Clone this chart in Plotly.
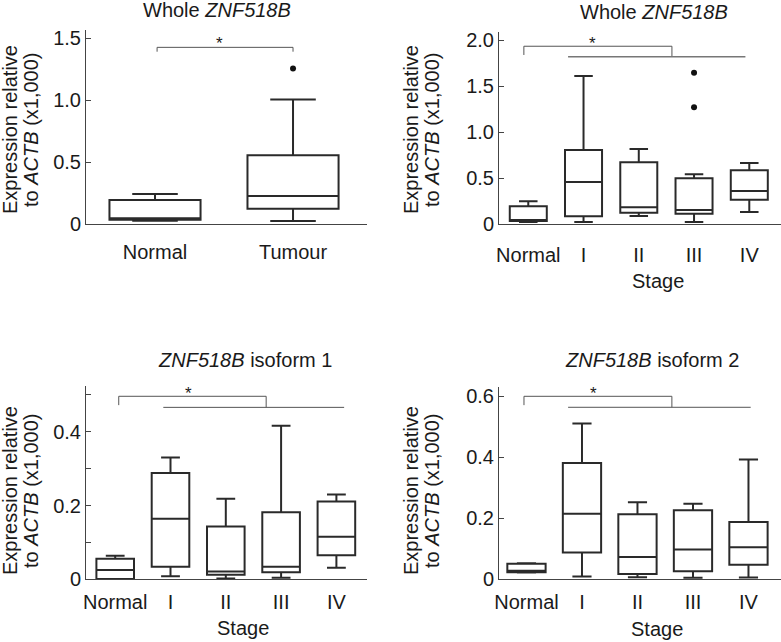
import plotly.graph_objects as go

W, H = 781, 642

# ---------------- data ----------------
p1_categories = ["Normal", "Tumour"]
p1_lower = [0.027, 0.024]
p1_q1 = [0.035, 0.124]
p1_median = [0.046, 0.226]
p1_q3 = [0.194, 0.554]
p1_upper = [0.242, 1.005]
p1_out_x = ["Tumour"]
p1_out_y = [1.255]

stages = ["Normal", "I", "II", "III", "IV"]

p2_lower = [0.025, 0.025, 0.090, 0.025, 0.134]
p2_q1 = [0.036, 0.087, 0.126, 0.115, 0.267]
p2_median = [0.047, 0.460, 0.185, 0.155, 0.362]
p2_q3 = [0.196, 0.808, 0.674, 0.500, 0.587]
p2_upper = [0.250, 1.612, 0.818, 0.543, 0.666]
p2_out_x = ["III", "III"]
p2_out_y = [1.648, 1.272]

p3_lower = [0.000, 0.008, 0.002, 0.004, 0.031]
p3_q1 = [0.001, 0.034, 0.0125, 0.019, 0.065]
p3_median = [0.025, 0.164, 0.021, 0.034, 0.115]
p3_q3 = [0.056, 0.288, 0.143, 0.182, 0.211]
p3_upper = [0.064, 0.330, 0.218, 0.416, 0.230]

p4_lower = [0.022, 0.009, 0.0066, 0.005, 0.006]
p4_q1 = [0.023, 0.088, 0.017, 0.026, 0.048]
p4_median = [0.028, 0.215, 0.073, 0.098, 0.105]
p4_q3 = [0.051, 0.381, 0.213, 0.226, 0.188]
p4_upper = [0.053, 0.511, 0.253, 0.248, 0.393]

p1_ticks = [0, 0.5, 1.0, 1.5]
p1_ticktext = ["0", "0.5", "1.0", "1.5"]
p2_ticks = [0, 0.5, 1.0, 1.5, 2.0]
p2_ticktext = ["0", "0.5", "1.0", "1.5", "2.0"]
p3_ticks = [0, 0.1, 0.2, 0.3, 0.4, 0.5]
p3_ticktext = ["0", "", "0.2", "", "0.4", ""]
p4_ticks = [0, 0.2, 0.4, 0.6]
p4_ticktext = ["0", "0.2", "0.4", "0.6"]

titles = ["Whole <i>ZNF518B</i>", "Whole <i>ZNF518B</i>",
          "<i>ZNF518B</i> isoform 1", "<i>ZNF518B</i> isoform 2"]

# ---------------- style ----------------
FONT = "Liberation Sans, Arial, Helvetica, sans-serif"
FS = 20
TXT = "#1a1a1a"
LINE = "#2a2a2a"
AX = "#444444"
BR = "#555555"

def px(xp):
    return xp / W

def py(yp):
    return 1 - yp / H

# panel geometry in pixels: (x0, x1, ytop, ybottom)
geo = {
    1: (86, 367, 30, 224),
    2: (499, 781, 31.7, 224.3),
    3: (86, 366.7, 385.7, 579.3),
    4: (499, 781, 386.7, 579.3),
}
xranges = {1: [-0.5, 1.536], 2: [-0.53, 4.574], 3: [-0.528, 4.548], 4: [-0.495, 4.586]}
yranges = {1: [0, 1.565], 2: [0, 2.093], 3: [0, 0.5247], 4: [0, 0.6315]}
standoffs = {1: 10, 2: 13, 3: 5, 4: 5}

fig = go.Figure()

def add_boxes(i, cats, lo, q1, med, q3, up, width):
    ax = "" if i == 1 else str(i)
    fig.add_trace(go.Box(
        x=cats, q1=q1, median=med, q3=q3, lowerfence=lo, upperfence=up,
        xaxis="x" + ax, yaxis="y" + ax,
        width=width, whiskerwidth=0.5,
        fillcolor="white", line=dict(color=LINE, width=2),
        boxpoints=False, hoverinfo="skip",
    ))

def add_outliers(i, xs, ys):
    ax = "" if i == 1 else str(i)
    fig.add_trace(go.Scatter(
        x=xs, y=ys, mode="markers", xaxis="x" + ax, yaxis="y" + ax,
        marker=dict(color="#111111", size=6), hoverinfo="skip",
    ))

add_boxes(1, p1_categories, p1_lower, p1_q1, p1_median, p1_q3, p1_upper, 0.66)
add_outliers(1, p1_out_x, p1_out_y)
add_boxes(2, stages, p2_lower, p2_q1, p2_median, p2_q3, p2_upper, 0.67)
add_outliers(2, p2_out_x, p2_out_y)
add_boxes(3, stages, p3_lower, p3_q1, p3_median, p3_q3, p3_upper, 0.68)
add_boxes(4, stages, p4_lower, p4_q1, p4_median, p4_q3, p4_upper, 0.69)

layout = dict(
    width=W, height=H, margin=dict(l=0, r=0, t=0, b=0, autoexpand=False),
    paper_bgcolor="white", plot_bgcolor="white", showlegend=False,
    font=dict(family=FONT, size=FS, color=TXT),
)

tickinfo = {1: (p1_ticks, p1_ticktext), 2: (p2_ticks, p2_ticktext),
            3: (p3_ticks, p3_ticktext), 4: (p4_ticks, p4_ticktext)}
cats_for = {1: p1_categories, 2: stages, 3: stages, 4: stages}

for i in range(1, 5):
    x0, x1, yt, yb = geo[i]
    sx = "xaxis" if i == 1 else "xaxis%d" % i
    sy = "yaxis" if i == 1 else "yaxis%d" % i
    anchor_y = "y" if i == 1 else "y%d" % i
    anchor_x = "x" if i == 1 else "x%d" % i
    layout[sx] = dict(
        domain=[px(x0), px(x1)], anchor=anchor_y, type="category",
        categoryorder="array", categoryarray=cats_for[i],
        range=xranges[i], showgrid=False, zeroline=False,
        showline=True, linecolor=AX, linewidth=1, ticks="",
        tickfont=dict(family=FONT, size=FS, color=TXT),
        ticklabelstandoff=standoffs[i], automargin=False,
    )
    tv, tt = tickinfo[i]
    layout[sy] = dict(
        domain=[py(yb), py(yt)], anchor=anchor_x,
        range=yranges[i], showgrid=False, zeroline=False,
        showline=True, linecolor=AX, linewidth=1,
        ticks="inside", ticklen=5, tickcolor=AX, tickwidth=1,
        tickmode="array", tickvals=tv, ticktext=tt,
        tickfont=dict(family=FONT, size=FS, color=TXT),
        automargin=False,
    )

fig.update_layout(**layout)

# ---------------- significance brackets ----------------
def bracket(i, xl, xr, ytop, yl_drop, y_line, xl2, xr2, xstar, ystar, lw2=1, c2=BR):
    xa = "x" if i == 1 else "x%d" % i
    ya = "y" if i == 1 else "y%d" % i
    fig.add_shape(type="path",
                  path="M %f %f L %f %f L %f %f L %f %f" % (xl, yl_drop, xl, ytop, xr, ytop, xr, y_line),
                  xref=xa, yref=ya, line=dict(color=BR, width=1))
    if xl2 is not None:
        fig.add_shape(type="line", x0=xl2, x1=xr2, y0=y_line, y1=y_line,
                      xref=xa, yref=ya, line=dict(color=c2, width=lw2))
    fig.add_annotation(x=xstar, y=ystar, xref=xa, yref=ya, text="*",
                       showarrow=False, font=dict(size=17, color=TXT, family=FONT),
                       yanchor="middle", yshift=-3)

bracket(1, 0.015, 1.0, 1.425, 1.39, 1.39, None, None, 0.47, 1.48)
bracket(2, -0.08, 2.6, 1.935, 1.84, 1.82, 0.72, 3.93, 1.17, 2.0, lw2=1.5, c2="#777777")
bracket(3, 0.064, 2.73, 0.496, 0.472, 0.466, 0.87, 4.14, 1.33, 0.513)
bracket(4, -0.045, 2.62, 0.60, 0.571, 0.564, 0.75, 4.04, 1.2, 0.618)

# ---------------- titles / axis titles ----------------
def ann(xp, yp, text, angle=0):
    fig.add_annotation(x=px(xp), y=py(yp), xref="paper", yref="paper",
                       text=text, showarrow=False, textangle=angle,
                       xanchor="center", yanchor="middle",
                       font=dict(family=FONT, size=FS, color=TXT))

title_pos = [(216.5, 10.5), (654, 12), (245, 360), (651.7, 360)]
for (xp, yp), t in zip(title_pos, titles):
    ann(xp, yp, t)

ylab1 = "Expression relative"
ylab2 = "to <i>ACTB</i> (x1,000)"
for (xa, ya) in [(10, 130), (411, 130), (10, 491), (411, 491)]:
    ann(xa, ya, ylab1, -90)
    ann(xa + 21, ya, ylab2, -90)

for (xs, ys) in [(658, 281), (243, 628), (656.7, 629)]:
    ann(xs, ys, "Stage")

fig.write_html(
    "out.html",
    config={"displayModeBar": False, "staticPlot": True},
    post_script="document.body.style.margin='0';document.body.style.padding='0';"
                "document.body.style.overflow='hidden';",
)
